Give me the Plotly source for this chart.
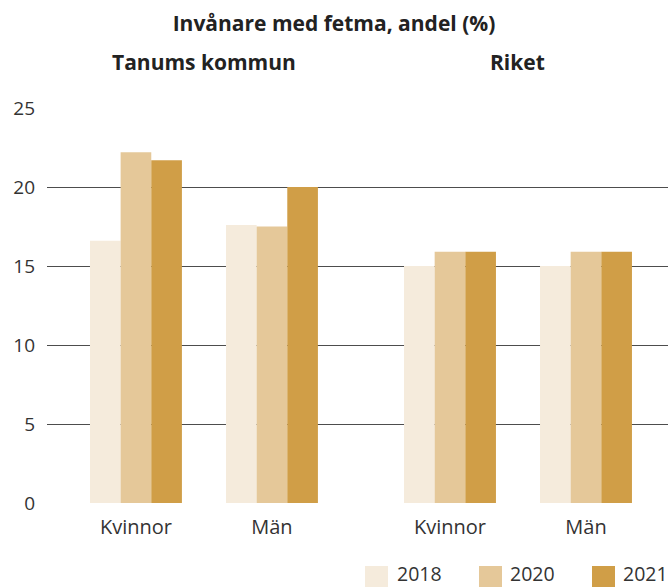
import plotly.graph_objects as go

# ---- data ----
regions = ["Tanums kommun", "Riket"]
groups = ["Kvinnor", "Män", "Kvinnor", "Män"]
years = ["2018", "2020", "2021"]
values_2018 = [16.6, 17.6, 15.0, 15.0]
values_2020 = [22.2, 17.5, 15.9, 15.9]
values_2021 = [21.7, 20.0, 15.9, 15.9]
y_ticks = [0, 5, 10, 15, 20, 25]

colors = ["#F5EBDC", "#E5C899", "#D09E47"]
series = [values_2018, values_2020, values_2021]

W, H = 668, 587
ML, MR, MT, MB = 47, 0, 108, 84
PW, PH = W - ML - MR, H - MT - MB

# group positions along a numeric x axis (extra gap between regions)
gap = 1.309
xpos = [0, 1, 1 + gap, 2 + gap]
x_range = [-0.654, 2 + gap + 0.603]

FONT = "Open Sans"
TXT = "#333333"

fig = go.Figure()
for yr, vals, c in zip(years, series, colors):
    fig.add_trace(go.Bar(x=xpos, y=vals, name=yr, marker=dict(color=c, line=dict(width=0)),
                         showlegend=False, hoverinfo="y"))

def px_x(px):
    return (px - ML) / PW

def px_y(py):
    return (H - MB - py) / PH

# manual legend (large squares)
shapes = []
annotations = []
sq_left = [365, 479, 592]
txt_left = [396, 509, 622]
for yr, c, sx, tx in zip(years, colors, sq_left, txt_left):
    shapes.append(dict(type="rect", xref="paper", yref="paper",
                       x0=px_x(sx), x1=px_x(sx + 23), y0=px_y(588), y1=px_y(566),
                       fillcolor=c, line=dict(width=0), layer="above"))
    annotations.append(dict(text=yr, xref="paper", yref="paper", x=px_x(tx), y=px_y(573.5),
                            xanchor="left", yanchor="middle", showarrow=False, borderpad=0,
                            font=dict(family=FONT, size=19.5, color=TXT)))

# region subtitles
mids = [(xpos[0] + xpos[1]) / 2, (xpos[2] + xpos[3]) / 2]
for name, m in zip(regions, mids):
    annotations.append(dict(text="<b>" + name + "</b>", xref="x", yref="paper", x=m, y=px_y(61.5),
                            xanchor="center", yanchor="middle", showarrow=False,
                            font=dict(family=FONT, size=21, color="#222222")))

fig.update_layout(
    width=W, height=H,
    margin=dict(l=ML, r=MR, t=MT, b=MB, pad=0),
    paper_bgcolor="white", plot_bgcolor="white",
    barmode="group", bargap=0.324, bargroupgap=0,
    title=dict(text="<b>Invånare med fetma, andel (%)</b>", x=0.5, xref="container", xanchor="center",
               y=1 - 23.5 / H, yref="container", yanchor="middle",
               font=dict(family=FONT, size=21, color="#222222")),
    font=dict(family=FONT, size=20, color=TXT),
    shapes=shapes, annotations=annotations,
    showlegend=False,
)
fig.update_xaxes(range=x_range, tickmode="array", tickvals=xpos, ticktext=groups,
                 showgrid=False, zeroline=False, showline=False, ticks="",
                 tickfont=dict(family=FONT, size=20, color=TXT), ticklabelstandoff=10)
fig.update_yaxes(range=[0, 25], tickmode="array", tickvals=y_ticks,
                 showgrid=True, gridcolor="#4d4d4d", gridwidth=1, zeroline=False,
                 showline=False, ticks="", tickfont=dict(family=FONT, size=19, color=TXT),
                 ticklabelstandoff=11)

fig.write_html("out.html", config={"displayModeBar": False},
               post_script="document.body.style.margin='0';document.body.style.overflow='hidden';")
